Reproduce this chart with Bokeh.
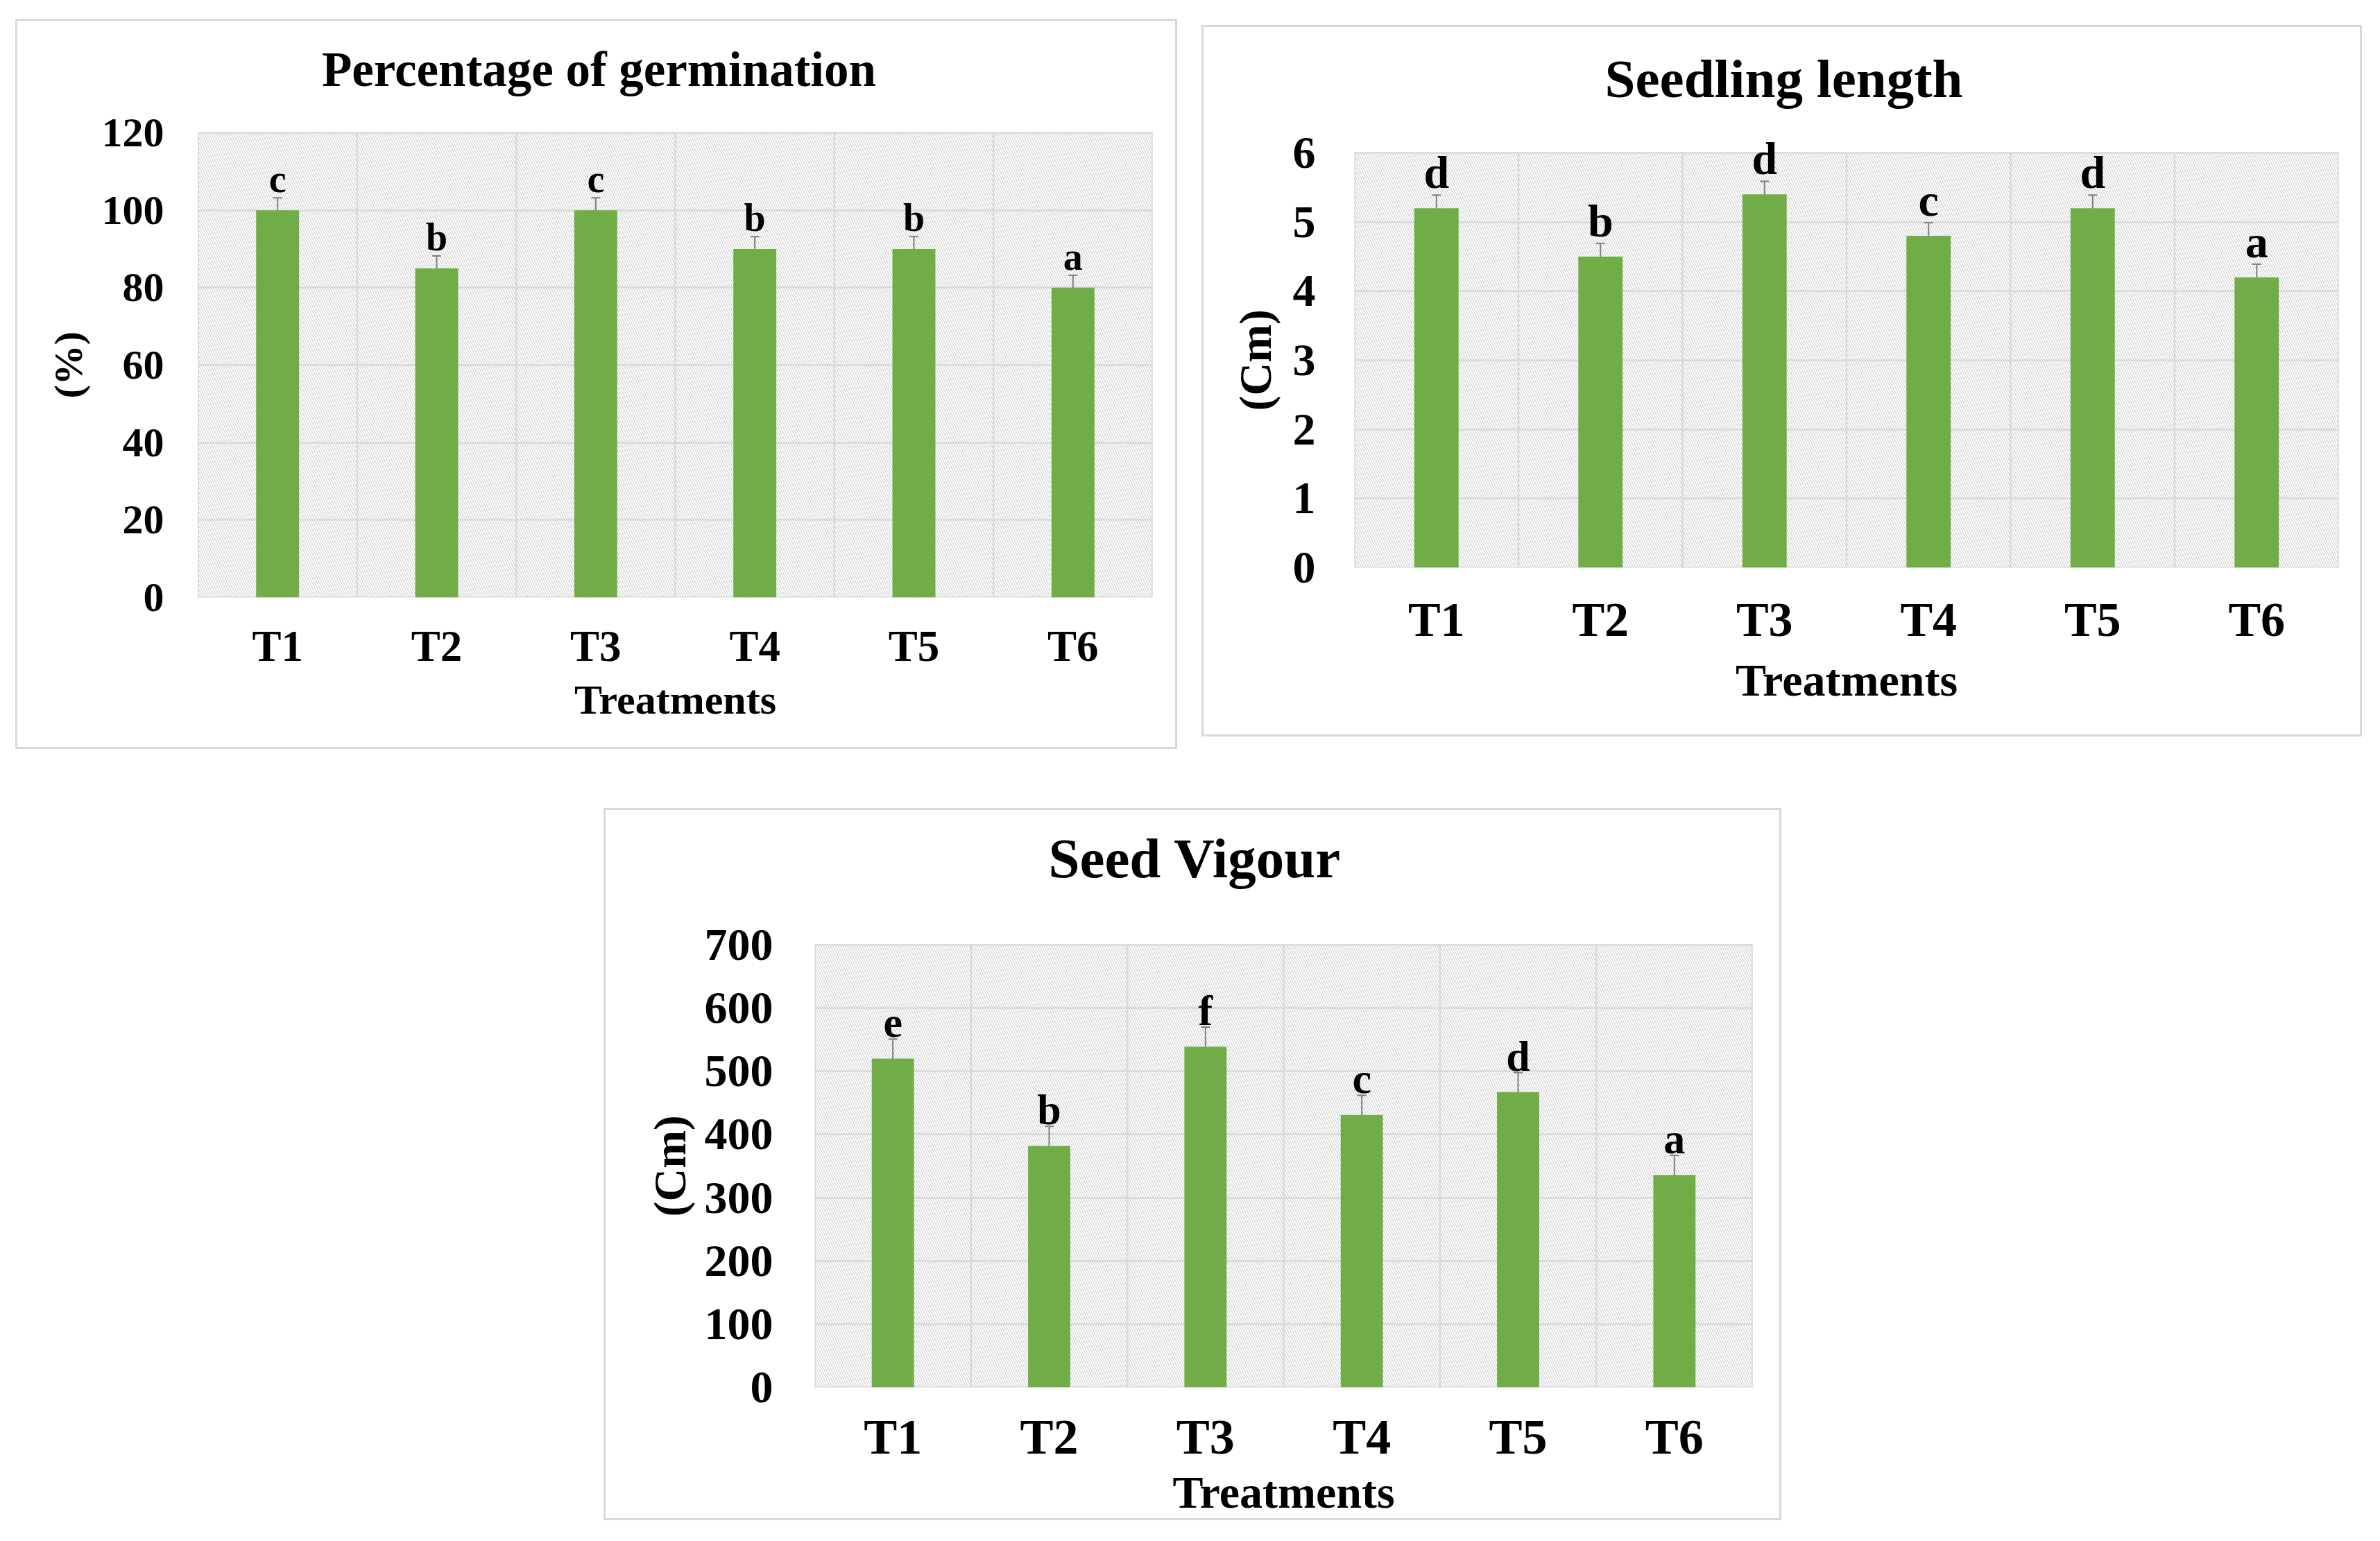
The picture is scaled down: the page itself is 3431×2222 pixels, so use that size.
from bokeh.plotting import figure
from bokeh.layouts import column, row
from bokeh.models import (ColumnDataSource, FixedTicker, Range1d, Whisker, TeeHead,
                          Label, LabelSet, Title)
from bokeh.embed import file_html
from bokeh.resources import INLINE

# data
treatments = ["T1", "T2", "T3", "T4", "T5", "T6"]

germ_pct = [100, 85, 100, 90, 90, 80]
germ_err = [3.2, 3.2, 3.2, 3.2, 3.2, 3.2]
germ_letters = ["c", "b", "c", "b", "b", "a"]
germ_ticks = [0, 20, 40, 60, 80, 100, 120]

seedling_cm = [5.2, 4.5, 5.4, 4.8, 5.2, 4.2]
seedling_err = [0.19, 0.19, 0.19, 0.19, 0.19, 0.19]
seedling_letters = ["d", "b", "d", "c", "d", "a"]
seedling_ticks = [0, 1, 2, 3, 4, 5, 6]

vigour = [520, 382, 539, 431, 467, 336]
vigour_err = [31, 31, 31, 31, 31, 31]
vigour_letters = ["e", "b", "f", "c", "d", "a"]
vigour_ticks = [0, 100, 200, 300, 400, 500, 600, 700]

FONT = "Liberation Serif"
GREEN = "#70AD47"
GRID = "#d9d9d9"
ERR = "#7f7f7f"


def make_panel(title, ylabel, vals, errs, letters, ticks, size, borders, fonts,
               title_pos, ylab_pos, letter_gap, x_standoff, xl_standoff, y_standoff):
    w, h = size
    left, top, right, bottom = borders   # plot-area edges measured from the panel box
    title_fs, ytick_fs, xtick_fs, xlab_fs, ylab_fs, let_fs = fonts
    n = len(treatments)
    ymax = ticks[-1]
    # the frame runs up to the top of the panel so that the title and the
    # letters above the bars are drawn inside it
    frame_h = h - bottom
    y_end = ymax * frame_h / (frame_h - top)
    p = figure(width=w, height=h, output_backend="svg", toolbar_location=None,
               title=None, x_range=Range1d(0, n), y_range=Range1d(ticks[0], y_end),
               min_border_left=left, min_border_top=0,
               min_border_right=right, min_border_bottom=bottom)
    p.styles = {"border": "3px solid #d9d9d9"}
    p.outline_line_color = None

    xs = [i + 0.5 for i in range(n)]
    src = ColumnDataSource(dict(
        x=xs, top=vals, upper=[v + e for v, e in zip(vals, errs)],
        lower=[v - e for v, e in zip(vals, errs)], letter=letters))

    # hatched plot area with its light border
    p.quad(left=[0], right=[n], bottom=[ticks[0]], top=[ymax],
           fill_color="white", line_color=GRID, line_width=2.5, hatch_pattern="\\",
           hatch_color="#d4d4d4", hatch_scale=7, hatch_weight=1.3, level="image")
    # vertical grid lines between the treatments
    bounds = list(range(n + 1))
    p.segment(x0=bounds, y0=[ticks[0]] * len(bounds), x1=bounds, y1=[ymax] * len(bounds),
              line_color=GRID, line_width=2.5)

    p.vbar(x="x", top="top", width=0.27, source=src, fill_color=GREEN, line_color=None)
    p.add_layout(Whisker(base="x", upper="upper", lower="lower", source=src,
                         line_color=ERR, line_width=2,
                         upper_head=TeeHead(size=13, line_color=ERR, line_width=2),
                         lower_head=TeeHead(size=13, line_color=ERR, line_width=2)))
    p.add_layout(LabelSet(x="x", y="upper", text="letter", source=src,
                          text_align="center", text_baseline="alphabetic",
                          y_offset=letter_gap, text_font=FONT, text_font_style="bold",
                          text_font_size=f"{let_fs}px", text_color="black"))

    # chart title, centred on the whole panel box
    tx, ty = title_pos
    p.add_layout(Label(x=0, y=ymax, x_offset=tx, y_offset=ty, text=title,
                       text_align="center", text_baseline="alphabetic",
                       text_font=FONT, text_font_style="bold",
                       text_font_size=f"{title_fs}px", text_color="black"))

    # y label as a side title so it can sit at the middle of the plot area
    ly_offset, ly_standoff = ylab_pos
    p.add_layout(Title(text=ylabel, align="left", offset=ly_offset, standoff=ly_standoff,
                       vertical_align="bottom", text_font=FONT, text_font_style="bold",
                       text_font_size=f"{ylab_fs}px", text_color="black"), "left")

    p.xaxis.ticker = FixedTicker(ticks=xs)
    p.xaxis.major_label_overrides = {x: t for x, t in zip(xs, treatments)}
    p.yaxis.ticker = FixedTicker(ticks=ticks)
    p.xgrid.visible = False
    p.ygrid.ticker = FixedTicker(ticks=ticks[1:-1])
    p.ygrid.grid_line_color = GRID
    p.ygrid.grid_line_width = 2.5

    p.xaxis.axis_label = "Treatments"
    for ax in (p.xaxis, p.yaxis):
        ax.axis_line_color = None
        ax.major_tick_line_color = None
        ax.minor_tick_line_color = None
        ax.major_tick_out = 0
        ax.major_tick_in = 0
        ax.minor_tick_out = 0
        ax.minor_tick_in = 0
        ax.major_label_text_font = FONT
        ax.major_label_text_font_style = "bold"
        ax.major_label_text_color = "black"
        ax.axis_label_text_font = FONT
        ax.axis_label_text_font_style = "bold"
        ax.axis_label_text_color = "black"
    p.xaxis.axis_label_text_font_size = f"{xlab_fs}px"
    p.xaxis.major_label_text_font_size = f"{xtick_fs}px"
    p.yaxis.major_label_text_font_size = f"{ytick_fs}px"
    p.xaxis.major_label_standoff = x_standoff
    p.xaxis.axis_label_standoff = xl_standoff
    p.yaxis.major_label_standoff = y_standoff
    return p


p1 = make_panel("Percentage of germination", "(%)", germ_pct, germ_err, germ_letters,
                germ_ticks, (1675, 1053), (260, 161, 39, 222), (71, 60, 63, 60, 58, 56),
                (578, 92), (287, 26), 8, 35, 6, 49)
p2 = make_panel("Seedling length", "(Cm)", seedling_cm, seedling_err, seedling_letters,
                seedling_ticks, (1673, 1026), (217, 181, 37, 247), (79, 66, 70, 66, 66, 66),
                (619, 107), (226, 30), 10, 36, 9, 56)
p3 = make_panel("Seed Vigour", "(Cm)", vigour, vigour_err, vigour_letters,
                vigour_ticks, (1698, 1027), (301, 194, 45, 195), (81, 66, 72, 66, 66, 62),
                (548, 125), (246, 22), 3, 31, 0, 60)

p1.margin = (27, 0, 0, 22)
p2.margin = (36, 0, 0, 35)
p3.margin = (85, 0, 0, 870)

layout = column(row(column(p1), column(p2)), p3)

open("out.html", "w").write(file_html(layout, INLINE))
